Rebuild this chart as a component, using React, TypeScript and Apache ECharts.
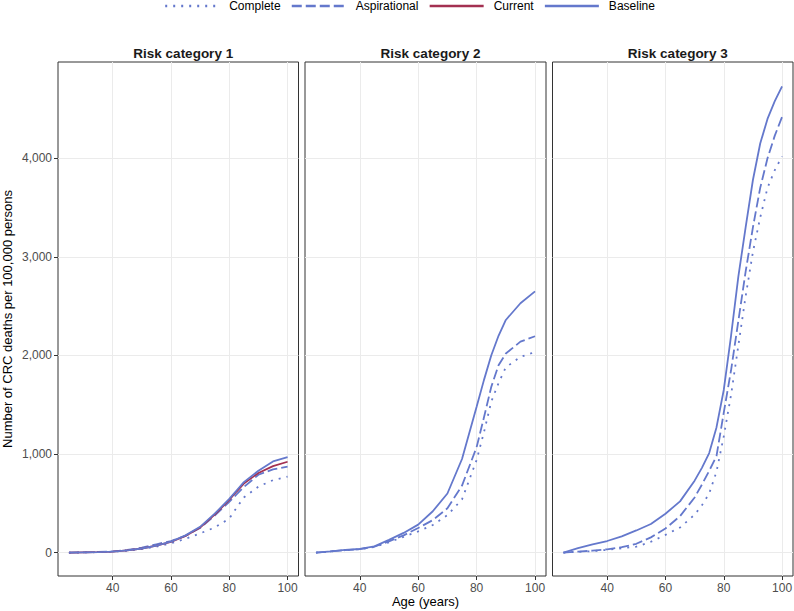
import React, { useEffect, useRef } from "react";
import * as echarts from "echarts";

// ---------- data ----------
const seriesNames = ["Complete", "Aspirational", "Current", "Baseline"];
const panelTitles = ["Risk category 1", "Risk category 2", "Risk category 3"];
const xTicks = [40, 60, 80, 100];
const yTicks = [0, 1000, 2000, 3000, 4000];

const ages1 = [25, 30, 35, 40, 45, 50, 55, 60, 65, 70, 75, 80, 82.5, 85, 90, 95, 100];
const complete1 = [0, 2, 5, 10, 19, 36, 60, 95, 140, 195, 255, 345, 455, 560, 670, 735, 770];
const aspirational1 = [0, 3, 7, 13, 27, 50, 85, 118, 170, 250, 375, 515, 590, 665, 790, 845, 872];
const current1 = [0, 3, 6, 11, 22, 42, 72, 110, 170, 255, 385, 535, 620, 700, 808, 878, 922];
const baseline1 = [0, 3, 6, 11, 22, 42, 72, 112, 175, 262, 395, 545, 630, 715, 830, 925, 968];

const ages2 = [25, 30, 35, 40, 45, 50, 55, 60, 65, 70, 75, 80, 82.5, 85, 87.5, 90, 95, 100];
const complete2 = [0, 12, 25, 35, 58, 105, 160, 216, 280, 380, 540, 940, 1220, 1530, 1720, 1880, 1985, 2035];
const aspirational2 = [0, 12, 25, 35, 60, 115, 175, 250, 330, 450, 680, 1070, 1370, 1680, 1900, 2020, 2140, 2195];
const baseline2 = [0, 13, 27, 37, 64, 130, 200, 284, 420, 600, 950, 1480, 1750, 2000, 2200, 2360, 2530, 2650];

const ages3 = [25, 30, 35, 40, 45, 50, 55, 60, 65, 70, 72.5, 75, 77.5, 80, 82.5, 85, 87.5, 90, 92.5, 95, 97.5, 100];
const complete3 = [0, 8, 15, 28, 45, 60, 110, 180, 255, 385, 480, 600, 820, 1180, 1600, 2100, 2600, 3050, 3400, 3700, 3880, 4020];
const aspirational3 = [0, 10, 20, 34, 55, 90, 155, 245, 370, 560, 690, 830, 980, 1420, 1850, 2350, 2850, 3300, 3700, 4000, 4230, 4420];
const baseline3 = [0, 45, 85, 118, 165, 225, 290, 395, 520, 730, 860, 1010, 1270, 1650, 2200, 2800, 3300, 3780, 4150, 4400, 4580, 4730];

// ---------- layout / style ----------
const FONT = "Liberation Sans, Arial, Helvetica, sans-serif";
const BLUE = "#6478CC";
const RED = "#A33051";
const GRID_TOP = 62;
const GRID_HEIGHT = 514;
const panelsLayout = [
  { left: 58, width: 240.5 },
  { left: 305, width: 241 },
  { left: 552.5, width: 240.5 },
];

const styleFor: Record<string, any> = {
  Complete: { color: BLUE, width: 1.8, type: [2, 6] },
  Aspirational: { color: BLUE, width: 1.8, type: [10, 4] },
  Current: { color: RED, width: 1.8, type: "solid" },
  Baseline: { color: BLUE, width: 1.8, type: "solid" },
};

const zip = (xs: number[], ys: number[]) => xs.map((x, i) => [x, ys[i]]);

const panelData: { ages: number[]; lines: Record<string, number[]> }[] = [
  { ages: ages1, lines: { Complete: complete1, Aspirational: aspirational1, Current: current1, Baseline: baseline1 } },
  { ages: ages2, lines: { Complete: complete2, Aspirational: aspirational2, Baseline: baseline2 } },
  { ages: ages3, lines: { Complete: complete3, Aspirational: aspirational3, Baseline: baseline3 } },
];

function buildOption() {
  const grid = panelsLayout.map((p) => ({
    left: p.left,
    width: p.width,
    top: GRID_TOP,
    height: GRID_HEIGHT,
    show: true,
    borderColor: "#333333",
    borderWidth: 1,
    backgroundColor: "#ffffff",
    containLabel: false,
    outerBoundsMode: "none",
  }));

  const xAxis = panelsLayout.map((_, i) => ({
    type: "value",
    gridIndex: i,
    position: "bottom",
    min: 21.25,
    max: 103.75,
    axisLine: { show: false, onZero: false },
    axisTick: { show: true, length: 4, lineStyle: { color: "#333333" }, customValues: xTicks },
    axisLabel: { customValues: xTicks, fontSize: 12, color: "#4D4D4D", margin: 6, fontFamily: FONT },
    splitLine: { show: true, lineStyle: { color: "#EBEBEB", width: 1 } },
    name: i === 1 ? "Age (years)" : "",
    nameLocation: "middle",
    nameGap: 19,
    nameMoveOverlap: false,
    nameTextStyle: { fontSize: 13, color: "#000000", fontFamily: FONT },
  }));

  const yAxis = panelsLayout.map((_, i) => ({
    type: "value",
    gridIndex: i,
    position: "left",
    min: -237,
    max: 4977,
    axisLine: { show: false, onZero: false },
    axisTick: { show: i === 0, length: 4, lineStyle: { color: "#333333" }, customValues: yTicks },
    axisLabel: {
      show: i === 0,
      customValues: yTicks,
      fontSize: 12,
      color: "#4D4D4D",
      margin: 6,
      fontFamily: FONT,
      formatter: (v: number) => v.toLocaleString("en-US"),
    },
    splitLine: { show: true, lineStyle: { color: "#EBEBEB", width: 1 } },
    name: i === 0 ? "Number of CRC deaths per 100,000 persons" : "",
    nameLocation: "middle",
    nameGap: 44,
    nameMoveOverlap: false,
    nameTextStyle: { fontSize: 13, color: "#000000", fontFamily: FONT },
  }));

  const series: any[] = [];
  panelData.forEach((pd, i) => {
    seriesNames.forEach((name) => {
      const ys = pd.lines[name];
      if (!ys) return;
      series.push({
        type: "line",
        name,
        xAxisIndex: i,
        yAxisIndex: i,
        data: zip(pd.ages, ys),
        showSymbol: false,
        symbol: "none",
        lineStyle: { ...styleFor[name] },
        itemStyle: { color: styleFor[name].color },
        emphasis: { disabled: true },
      });
    });
  });

  const title = panelsLayout.map((p, i) => ({
    text: panelTitles[i],
    left: p.left + p.width / 2,
    top: 41,
    textAlign: "center",
    textStyle: { fontSize: 13.5, fontWeight: "bold", color: "#1A1A1A", fontFamily: FONT },
  }));

  return {
    animation: false,
    textStyle: { fontFamily: FONT },
    title,
    legend: {
      data: seriesNames,
      top: 0,
      left: 164,
      padding: 0,
      itemWidth: 54,
      itemHeight: 12,
      itemGap: 10,
      itemStyle: { color: "rgba(0,0,0,0)", borderColor: "rgba(0,0,0,0)", borderWidth: 0, opacity: 0 },
      lineStyle: { width: 2.4 },
      textStyle: { fontSize: 12, color: "#000000", fontFamily: FONT, padding: [0, 0, 0, 5] },
    },
    grid,
    xAxis,
    yAxis,
    series,
  };
}

export default function App() {
  const ref = useRef<HTMLDivElement>(null);
  useEffect(() => {
    document.body.style.margin = "0";
    const chart = echarts.init(ref.current!, null, { renderer: "svg" });
    chart.setOption(buildOption() as any);
    return () => chart.dispose();
  }, []);
  return <div ref={ref} style={{ width: 794, height: 611 }} />;
}
